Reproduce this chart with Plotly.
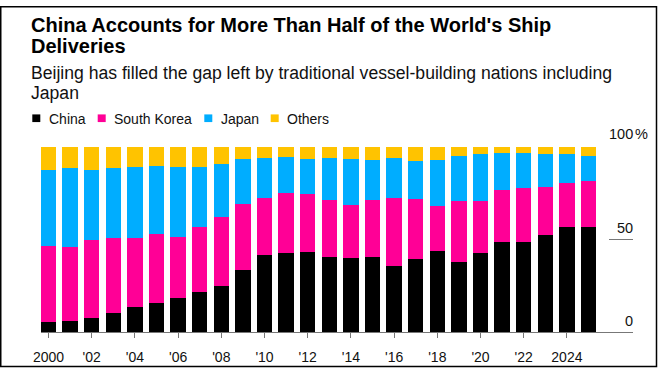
import plotly.graph_objects as go

years = list(range(2000, 2026))
china = [5.5, 5.9, 7.4, 10.5, 13.5, 15.5, 18.5, 21.4, 25.0, 33.7, 41.8, 42.7, 43.5,
         40.6, 40.1, 40.6, 35.6, 39.6, 43.7, 38.0, 42.8, 48.9, 48.5, 52.2, 56.6, 57.0]
south_korea = [40.8, 39.9, 42.2, 40.4, 37.4, 37.5, 33.0, 35.2, 37.0, 35.7, 30.9, 32.3, 30.9,
               30.7, 28.5, 30.6, 36.6, 32.1, 24.5, 32.6, 28.0, 27.9, 29.2, 26.2, 23.7, 24.5]
japan = [41.4, 42.8, 38.0, 37.9, 38.1, 36.8, 37.5, 32.7, 28.8, 24.2, 21.2, 19.5, 18.9,
         22.6, 24.7, 21.7, 21.6, 20.7, 24.7, 24.6, 25.2, 19.7, 19.2, 17.6, 15.7, 13.5]
others = [12.3, 11.4, 12.4, 11.2, 11.0, 10.2, 11.0, 10.7, 9.2, 6.4, 6.1, 5.5, 6.7,
          6.1, 6.7, 7.1, 6.2, 7.6, 7.1, 4.8, 4.0, 3.5, 3.1, 4.0, 4.0, 5.0]

series_names = ["China", "South Korea", "Japan", "Others"]
series_values = [china, south_korea, japan, others]
colors = ["#000000", "#ff0096", "#00adff", "#ffc300"]

x_tickvals = list(range(2000, 2025, 2))
x_ticktext = ["2000", "'02", "'04", "'06", "'08", "'10", "'12", "'14", "'16", "'18", "'20", "'22", "2024"]
y_tickvals = [0, 50, 100]
y_ticktext = ["0", "50", "100"]

title_lines = ["China Accounts for More Than Half of the World's Ship", "Deliveries"]
subtitle_lines = ["Beijing has filled the gap left by traditional vessel-building nations including", "Japan"]

W, H = 658, 377
L, R, T, B = 41, 25, 147, 37
PW, PH = W - L - R, H - T - B
FONT = "Liberation Sans, Arial, sans-serif"


def px(p):
    return (p - L) / PW


def py(p):
    return (H - B - p) / PH


fig = go.Figure()
for name, vals, col in zip(series_names, series_values, colors):
    fig.add_trace(go.Bar(x=years, y=vals, name=name, marker=dict(color=col, line=dict(width=0)),
                         showlegend=False))

annotations = []
# Title
for i, line in enumerate(title_lines):
    annotations.append(dict(text=f"<b>{line}</b>", x=px(29), y=py(19.5 + 22.3 * i), xref="paper", yref="paper",
                            xanchor="left", yanchor="middle", showarrow=False,
                            font=dict(family=FONT, size=20, color="#000")))
for i, line in enumerate(subtitle_lines):
    annotations.append(dict(text=line, x=px(29), y=py(69.5 + 21 * i), xref="paper", yref="paper",
                            xanchor="left", yanchor="middle", showarrow=False,
                            font=dict(family=FONT, size=17.6, color="#111")))

shapes = []
# Legend
leg_sq = [32.3, 97.7, 204.3, 270.7]
for name, col, x0 in zip(series_names, colors, leg_sq):
    shapes.append(dict(type="rect", xref="paper", yref="paper", x0=px(x0), x1=px(x0 + 8),
                       y0=py(121), y1=py(113), fillcolor=col, line=dict(width=0)))
    annotations.append(dict(text=name, x=px(x0 + 14.5), y=py(117.3), xref="paper", yref="paper",
                            xanchor="left", yanchor="middle", showarrow=False,
                            font=dict(family=FONT, size=14, color="#111")))

# Y labels (right side, above tick lines)
for v, t, ys in zip(y_tickvals, y_ticktext, [11, 12, 13]):
    annotations.append(dict(text=t, x=px(635), y=v, xref="paper", yref="y", xanchor="right",
                            yanchor="middle", yshift=ys, showarrow=False,
                            font=dict(family=FONT, size=14.5, color="#111")))
annotations.append(dict(text="%", x=px(633), y=100, xref="paper", yref="y", xanchor="left",
                        yanchor="middle", yshift=13, showarrow=False,
                        font=dict(family=FONT, size=14.5, color="#111")))

# Frame border
shapes.append(dict(type="rect", xref="paper", yref="paper", x0=px(0.75), x1=px(656.5),
                   y0=py(376), y1=py(0.75), line=dict(color="#000", width=1.5), fillcolor="rgba(0,0,0,0)",
                   layer="above"))

fig.update_layout(
    width=W, height=H,
    margin=dict(l=L, r=R, t=T, b=B, pad=0),
    barmode="stack", bargap=0.29,
    plot_bgcolor="white", paper_bgcolor="white",
    font=dict(family=FONT, size=14, color="#111"),
    showlegend=False,
    annotations=annotations, shapes=shapes,
    xaxis=dict(range=[1999.653, 2027.06], tickvals=x_tickvals, ticktext=x_ticktext,
               showgrid=False, zeroline=False, showline=True, linecolor="#777", linewidth=1.3,
               ticks="outside", ticklen=5, tickcolor="#777", tickwidth=1.3,
               tickfont=dict(family=FONT, size=14, color="#111"), ticklabelstandoff=7),
    yaxis=dict(range=[0, 100], side="right", tickvals=[50, 100], showticklabels=False,
               ticks="inside", ticklen=24, tickcolor="#777", tickwidth=1.3,
               showgrid=False, zeroline=False, showline=False),
)

fig.write_html("out.html", config={"displayModeBar": False},
               post_script="document.body.style.margin='0';document.body.style.overflow='hidden';")
